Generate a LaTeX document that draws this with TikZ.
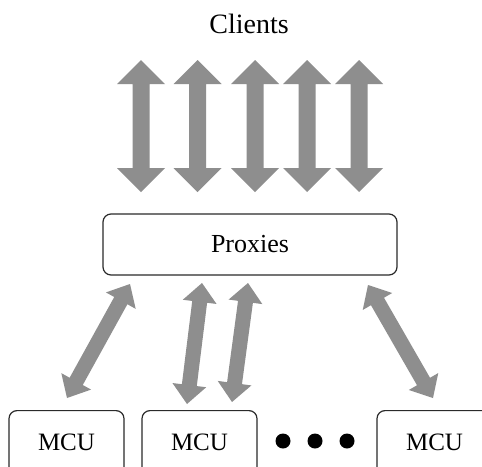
\documentclass[tikz,border=0pt]{standalone}
\usepackage{fontspec}
\setmainfont{Liberation Serif}
\usetikzlibrary{calc}
\definecolor{arrgray}{HTML}{8E8E8E}
\definecolor{boxline}{HTML}{2A2A2A}
\tikzset{
  box/.style={draw=boxline, line width=1.2pt, rounded corners=8pt, fill=white, inner sep=0pt},
  lbl/.style={font=\fontsize{25}{29}\selectfont, inner sep=0pt},
  dotmark/.style={circle, fill=black, minimum size=15pt, inner sep=0pt},
}
% #1 start, #2 end, #3 head length, #4 head half width, #5 shaft half width
\newcommand{\dblarrow}[5]{%
  \fill[arrgray] let \p1=(#1), \p2=(#2),
    \n1={atan2(\y2-\y1,\x2-\x1)}, \n2={veclen(\x2-\x1,\y2-\y1)} in
    [shift={(\p1)}, rotate=\n1]
    (0pt,0pt) -- (#3,#4) -- (#3,#5) -- ({\n2-#3},#5) -- ({\n2-#3},#4)
    -- ({\n2},0pt) -- ({\n2-#3},-#4) -- ({\n2-#3},-#5) -- (#3,-#5)
    -- (#3,-#4) -- cycle;}
\begin{document}
\begin{tikzpicture}[x=1pt,y=-1pt]
\useasboundingbox (0,0) rectangle (482,466);
\clip (0,0) rectangle (482,466);
\fill[white] (0,0) rectangle (482,466);

\node[lbl, font=\fontsize{28}{32}\selectfont] (clients) at (249,24) {Clients};

% vertical client arrows
\foreach \i/\x in {1/141,2/197.5,3/255,4/307,5/359}{
  \coordinate (ct\i) at (\x,60);
  \coordinate (cb\i) at (\x,192);
}
\foreach \i in {1,...,5}{\dblarrow{ct\i}{cb\i}{24pt}{24pt}{8.5pt}}

\node[box, minimum width=294pt, minimum height=61pt] (proxies) at (250,244.5) {};
\node[lbl, font=\fontsize{26}{30}\selectfont] (proxtext) at (proxies.center) {Proxies};

\node[box, minimum width=115pt, minimum height=72pt, anchor=north] (mcu1) at (66.5,410) {};
\node[box, minimum width=115pt, minimum height=72pt, anchor=north] (mcu2) at (199.5,410) {};
\node[box, minimum width=115pt, minimum height=72pt, anchor=north] (mcu3) at (434.5,410) {};
\node[lbl] (m1) at (66.5,442) {MCU};
\node[lbl] (m2) at (199.5,442) {MCU};
\node[lbl] (m3) at (434.5,442) {MCU};

\node[dotmark] (d1) at (283,441) {};
\node[dotmark] (d2) at (315,441) {};
\node[dotmark] (d3) at (347,441) {};

% proxy-MCU arrows
\coordinate (at) at (130,284); \coordinate (ab) at (67,398);
\coordinate (bt) at (202,283); \coordinate (bb) at (187,404);
\coordinate (ctt) at (248,283); \coordinate (cbb) at (232,402);
\coordinate (dt) at (368,285); \coordinate (db) at (433,398);
\dblarrow{at}{ab}{19pt}{17pt}{7.5pt}
\dblarrow{bt}{bb}{19pt}{17pt}{7.5pt}
\dblarrow{ctt}{cbb}{19pt}{17pt}{7.5pt}
\dblarrow{dt}{db}{19pt}{17pt}{7.5pt}
\end{tikzpicture}
\end{document}
